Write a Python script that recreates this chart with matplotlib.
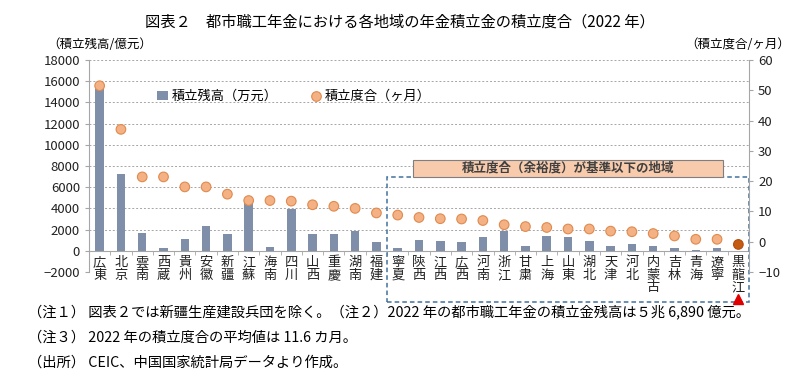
import numpy as np
import matplotlib
matplotlib.use("Agg")
import matplotlib.pyplot as plt
from matplotlib.patches import Rectangle

plt.rcParams['font.family'] = ['Noto Sans CJK JP', 'DejaVu Sans']

# 地域（縦書き用に改行を入れる）
regions = ["広\n東", "北\n京", "雲\n南", "西\n蔵", "貴\n州", "安\n徽", "新\n疆", "江\n蘇",
           "海\n南", "四\n川", "山\n西", "重\n慶", "湖\n南", "福\n建", "寧\n夏", "陝\n西",
           "江\n西", "広\n西", "河\n南", "浙\n江", "甘\n粛", "上\n海", "山\n東", "湖\n北",
           "天\n津", "河\n北", "内\n蒙\n古", "吉\n林", "青\n海", "遼\n寧", "黒\n龍\n江"]
# 積立残高（億元）
balance = [15300, 7200, 1720, 250, 1100, 2350, 1630, 4600,
           380, 3920, 1540, 1540, 1850, 850, 280, 1030,
           900, 815, 1320, 1910, 410, 1410, 1320, 940,
           410, 630, 410, 280, 100, 280, 0]
# 積立度合（ヶ月）
months = [51.5, 37.1, 21.4, 21.4, 18.1, 18.1, 15.7, 13.6,
          13.6, 13.4, 12.2, 11.7, 11.0, 9.5, 8.8, 8.0,
          7.6, 7.5, 7.0, 5.6, 5.0, 4.7, 4.2, 4.2,
          3.5, 3.3, 2.7, 1.9, 0.8, 0.8, -0.9]

bar_color = "#7F8FAA"
dot_fill = "#F4B183"
dot_edge = "#E08A4E"
grid_col = "#A6A6A6"

x = np.arange(len(regions))

fig = plt.figure(figsize=(8, 3.87), dpi=100)
ax = fig.add_axes([89/800, 1 - 272/387, (749 - 89)/800, 212/387])
ax2 = ax.twinx()

b = ax.bar(x, balance, width=0.4, color=bar_color, zorder=2, label="積立残高（万元）")

colors = [dot_fill] * (len(x) - 1) + ["#C55A11"]
edges = [dot_edge] * (len(x) - 1) + ["#B04F0E"]
ax2.scatter(x, months, s=48, c=colors, edgecolors=edges, linewidths=0.8, zorder=3)
legend_dot = ax2.scatter([], [], s=48, c=dot_fill, edgecolors=dot_edge, linewidths=0.8,
                         label="積立度合（ヶ月）")

ax.set_xlim(-0.5, len(x) - 0.5)
ax.set_ylim(-2000, 18000)
ax.set_yticks(np.arange(-2000, 18001, 2000))
ax2.set_ylim(-10, 60)
ax2.set_yticks(np.arange(-10, 61, 10))

for v in np.arange(-2000, 18001, 2000):
    if v != 0:
        ax.axhline(v, color=grid_col, lw=0.7, ls=(0, (2, 2)), zorder=0)

for s in ["top"]:
    ax.spines[s].set_visible(False)
    ax2.spines[s].set_visible(False)
ax.spines["bottom"].set_position(("data", 0))
ax.spines["bottom"].set_color(grid_col)
ax.spines["left"].set_color(grid_col)
ax.spines["right"].set_visible(False)
ax2.spines["bottom"].set_visible(False)
ax2.spines["left"].set_visible(False)
ax2.spines["right"].set_color(grid_col)

ax.set_xticks(x)
ax.set_xticklabels(regions, fontsize=9.5, linespacing=0.95, va="top", color="#222222")
ax.set_xticks(np.arange(-0.5, len(x), 1), minor=True)
ax.tick_params(axis="x", which="major", length=0, pad=4)
ax.tick_params(axis="x", which="minor", length=3, color=grid_col, direction="out")
ax.tick_params(axis="y", labelsize=9.5, length=3, color=grid_col, labelcolor="#222222")
ax2.tick_params(axis="y", labelsize=9.5, length=3, color=grid_col, labelcolor="#222222")

leg = ax.legend(handles=[b, legend_dot], loc="upper left", bbox_to_anchor=(0.085, 0.915),
                ncol=2, frameon=False, fontsize=9.5, handlelength=0.8, handletextpad=0.3,
                columnspacing=2.5)

# 基準以下の地域の枠
ax.add_patch(Rectangle((13.5, -4850), 17.0, 6930 + 4850, fill=False, ec="#41719C",
                       lw=1.1, ls=(0, (3, 2)), clip_on=False, zorder=5))
ax.add_patch(Rectangle((14.7, 7000), 14.6, 1600, fc="#F8CBAD", ec="#7F7F7F",
                       lw=0.8, clip_on=False, zorder=5))
ax.text(22, 7800, "積立度合（余裕度）が基準以下の地域", ha="center", va="center",
        fontsize=9, fontweight="bold", color="#404040", zorder=6)
ax.plot([30], [-4550], marker="^", color="#E00000", markersize=7, clip_on=False, zorder=6)

fig.text(0.5, 1 - 22/387, "図表２　都市職工年金における各地域の年金積立金の積立度合（2022 年）",
         ha="center", va="center", fontsize=11)
fig.text(47/800, 1 - 45/387, "（積立残高/億元）", ha="left", va="center", fontsize=9)
fig.text(685/800, 1 - 45/387, "（積立度合/ヶ月）", ha="left", va="center", fontsize=9)

notes = ["（注１） 図表２では新疆生産建設兵団を除く。（注２）2022 年の都市職工年金の積立金残高は５兆 6,890 億元。",
         "（注３） 2022 年の積立度合の平均値は 11.6 カ月。",
         "（出所） CEIC、中国国家統計局データより作成。"]
for i, t in enumerate(notes):
    fig.text(28/800, 1 - (312 + 25.5*i)/387, t, ha="left", va="center", fontsize=10.3)

fig.savefig("out.png", dpi=100)
